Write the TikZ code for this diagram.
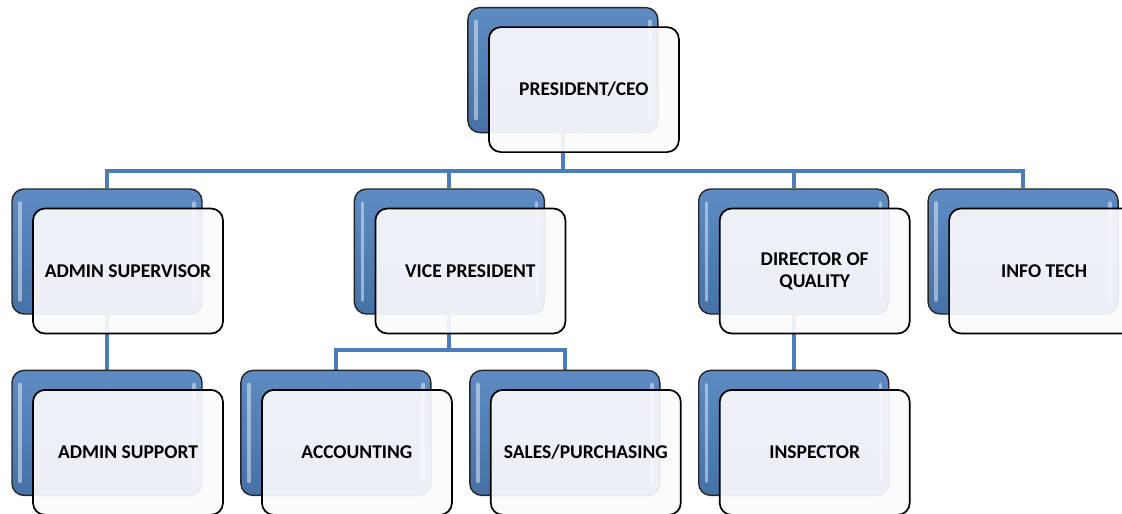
\documentclass[tikz,border=0pt]{standalone}
\usepackage{fontspec}
\setmainfont{Carlito}
\usetikzlibrary{positioning,backgrounds}

\definecolor{tabblue}{HTML}{4F81BD}
\definecolor{linkblue}{HTML}{4A7DBA}
\definecolor{cardfill}{HTML}{FAFBFD}

\begin{document}
\begin{tikzpicture}[x=1pt,y=1pt]
    \useasboundingbox (0,0) rectangle (1122,-514);
    \clip (0,0) rectangle (1122,-514);
    \begin{scope}[node distance=55pt and 37.5pt,
        mytab/.style={rectangle, rounded corners=12pt, draw=black!85, line width=1.4pt,
            minimum width=190pt, minimum height=125pt, inner sep=0pt,
            top color=tabblue!92!white, bottom color=tabblue!88!black,
            path picture={
                \draw[white, opacity=0.45, line width=3.5pt, line cap=round]
                    ([xshift=8pt,yshift=-14pt]path picture bounding box.north west) --
                    ([xshift=8pt,yshift=14pt]path picture bounding box.south west);
                \draw[white, opacity=0.45, line width=3.5pt, line cap=round]
                    ([xshift=-8pt,yshift=-14pt]path picture bounding box.north east) --
                    ([xshift=-8pt,yshift=14pt]path picture bounding box.south east);}},
        mycard/.style={rectangle, rounded corners=12pt, draw=black, line width=1.7pt,
            minimum width=190pt, minimum height=125pt, inner sep=0pt,
            fill=cardfill, fill opacity=0.92, text opacity=1,
            xshift=21pt, yshift=-19.5pt, align=center,
            font=\bfseries\fontsize{19.5}{22}\selectfont},
        myline/.style={draw=linkblue, line width=4pt}]
    % blue tabs behind the cards
    \node [mytab] (admback) at (107,-251.5) {};
    \node [mytab, below=of admback] (supback) {};
    \node [mytab, right=of supback] (accback) {};
    \node [mytab, right=of accback] (salesback) {};
    \node [mytab, right=of salesback] (inspback) {};
    \node [mytab, above=of inspback] (dirback) {};
    \node [mytab, right=38pt of dirback] (itback) {};
    \node [mytab, above=of accback, xshift=113.5pt] (vpback) {};
    \node [mytab, above=of vpback, xshift=113.5pt] (ceoback) {};
    % cards
    \node [mycard] (ceo) at (ceoback) {PRESIDENT/CEO};
    \node [mycard] (adm) at (admback) {ADMIN SUPERVISOR};
    \node [mycard] (vp) at (vpback) {VICE PRESIDENT};
    \node [mycard] (dir) at (dirback) {DIRECTOR OF\\QUALITY};
    \node [mycard] (it) at (itback) {INFO TECH};
    \node [mycard] (sup) at (supback) {ADMIN SUPPORT};
    \node [mycard] (acc) at (accback) {ACCOUNTING};
    \node [mycard] (sales) at (salesback) {SALES/PURCHASING};
    \node [mycard] (insp) at (inspback) {INSPECTOR};
    \coordinate (bus) at ([yshift=-18pt]ceo.south);
    \coordinate (vpbus) at ([yshift=-16pt]vp.south);
    % connectors
    \begin{scope}[on background layer]
        \foreach \n in {admback, vpback, dirback, itback}
            \draw [myline] (ceoback.south) -- (ceoback.south |- bus) -| (\n.north);
        \foreach \n in {accback, salesback}
            \draw [myline] (vpback.south) -- (vpback.south |- vpbus) -| (\n.north);
        \draw [myline] (admback.south) -- (supback.north);
        \draw [myline] (dirback.south) -- (inspback.north);
    \end{scope}
    \end{scope}
\end{tikzpicture}
\end{document}
